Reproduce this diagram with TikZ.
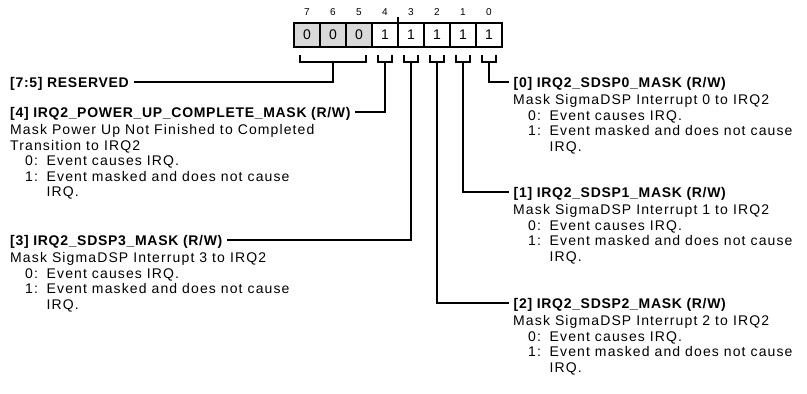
\documentclass[tikz,border=0pt]{standalone}
\usepackage{fontspec}
\setmainfont{Liberation Sans}
\newfontfamily\descfont{Liberation Sans}[LetterSpace=8]
\newfontfamily\titlefont{Liberation Sans}[LetterSpace=5]
\usetikzlibrary{positioning}
% one value line of a bit field, and its continuation line
\newcommand{\bitv}[2]{\hspace*{15pt}\makebox[21.5pt][l]{#1:}#2}
\newcommand{\bitcont}[1]{\hspace*{36.5pt}#1}

\begin{document}
\begin{tikzpicture}[
    x=1pt, y=-1pt,
    line/.style={draw=black, line width=1.9pt},
    cell/.style={draw=black, line width=1.9pt, minimum width=26pt, minimum height=24pt,
                 inner sep=0pt, outer sep=0pt, font=\fontsize{14}{16}\selectfont},
    rsvd/.style={cell, fill=black!15},
    bitnum/.style={font=\fontsize{10}{12}\selectfont, inner sep=0pt, anchor=base},
    title/.style={font=\titlefont\bfseries\fontsize{14}{16}\selectfont, inner xsep=4.5pt,
                  inner ysep=0pt, text height=10pt, text depth=0pt, anchor=west},
    desc/.style={font=\descfont\fontsize{14}{15.5}\selectfont, align=left, inner sep=0pt,
                 anchor=north west}
]
\useasboundingbox (0,0) rectangle (807,394);

% register cells and bit numbers
\foreach \b/\v/\s in {7/0/rsvd, 6/0/rsvd, 5/0/rsvd, 4/1/cell, 3/1/cell, 2/1/cell, 1/1/cell, 0/1/cell} {
    \node[\s] (c\b) at ({307+(7-\b)*26}, 35) {\v};
    \node[bitnum] (n\b) at ({307+(7-\b)*26}, 15.5) {\b};
}
\draw[line] (c4.north east) -- ++(0,-6);

% brackets under the cells
\draw[line] ([xshift=-7pt, yshift=-8pt]c7.south) -- ++(0,7) -| ([xshift=7pt, yshift=-8pt]c5.south);
\coordinate (s75) at ([yshift=-15pt]c6.south);
\foreach \b in {4,...,0} {
    \draw[line] ([xshift=-7pt, yshift=-8pt]c\b.south) -- ++(0,7) -| ([xshift=7pt, yshift=-8pt]c\b.south);
    \coordinate (s\b) at ([yshift=-15pt]c\b.south);
}

% ===== left fields =====
\node[title] (t75) at (5.5, 82) {[7:5] RESERVED};

\node[title] (t4) at (5.5, 112) {[4] IRQ2\_POWER\_UP\_COMPLETE\_MASK (R/W)};
\node[desc] (d4) at (10, 124.5) {Mask Power Up Not Finished to Completed\\
    Transition to IRQ2\\ \bitv{0}{Event causes IRQ.}\\
    \bitv{1}{Event masked and does not cause}\\ \bitcont{IRQ.}};

\node[title] (t3) at (5.5, 240) {[3] IRQ2\_SDSP3\_MASK (R/W)};
\node[desc] (d3) at (10, 252.5) {Mask SigmaDSP Interrupt 3 to IRQ2\\
    \bitv{0}{Event causes IRQ.}\\
    \bitv{1}{Event masked and does not cause}\\ \bitcont{IRQ.}};

% ===== right fields =====
\node[title] (t0) at (509, 82) {[0] IRQ2\_SDSP0\_MASK (R/W)};
\node[desc] (d0) at (513, 94.5) {Mask SigmaDSP Interrupt 0 to IRQ2\\
    \bitv{0}{Event causes IRQ.}\\
    \bitv{1}{Event masked and does not cause}\\ \bitcont{IRQ.}};

\node[title] (t1) at (509, 192) {[1] IRQ2\_SDSP1\_MASK (R/W)};
\node[desc] (d1) at (513, 204.5) {Mask SigmaDSP Interrupt 1 to IRQ2\\
    \bitv{0}{Event causes IRQ.}\\
    \bitv{1}{Event masked and does not cause}\\ \bitcont{IRQ.}};

\node[title] (t2) at (509, 303) {[2] IRQ2\_SDSP2\_MASK (R/W)};
\node[desc] (d2) at (513, 315.5) {Mask SigmaDSP Interrupt 2 to IRQ2\\
    \bitv{0}{Event causes IRQ.}\\
    \bitv{1}{Event masked and does not cause}\\ \bitcont{IRQ.}};

% leader lines
\draw[line] (s75) |- (t75.east);
\draw[line] (s4) |- (t4.east);
\draw[line] (s3) |- (t3.east);
\draw[line] (s2) |- (t2.west);
\draw[line] (s1) |- (t1.west);
\draw[line] (s0) |- (t0.west);

\end{tikzpicture}
\end{document}
